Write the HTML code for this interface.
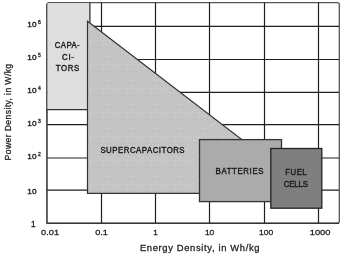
<!DOCTYPE html>
<html><head><meta charset="utf-8">
<style>
html,body{margin:0;padding:0;background:#fff;width:342px;height:256px;overflow:hidden}
svg{display:block;filter:blur(0.3px)}
text{font-family:"Liberation Sans",sans-serif;fill:#1c1c1c;stroke:#1c1c1c;stroke-width:0}
.lb text{stroke-width:0.42px}
.tk text{stroke-width:0.28px}
.ty text{stroke-width:0.32px}
text.t{stroke:#262626;stroke-width:0.3px;fill:#262626}
</style></head>
<body>
<svg width="342" height="256" viewBox="0 0 342 256">
<defs>
<pattern id="noise" width="12" height="12" patternUnits="userSpaceOnUse">
<rect width="12" height="12" fill="#c4c4c4"/><rect x="0" y="0" width="1" height="1" fill="#c0c0c0"/><rect x="1" y="0" width="1" height="1" fill="#c6c6c6"/><rect x="2" y="0" width="1" height="1" fill="#c5c5c5"/><rect x="3" y="0" width="1" height="1" fill="#bfbfbf"/><rect x="4" y="0" width="1" height="1" fill="#c2c2c2"/><rect x="5" y="0" width="1" height="1" fill="#cbcbcb"/><rect x="6" y="0" width="1" height="1" fill="#c6c6c6"/><rect x="8" y="0" width="1" height="1" fill="#c7c7c7"/><rect x="9" y="0" width="1" height="1" fill="#c6c6c6"/><rect x="10" y="0" width="1" height="1" fill="#bebebe"/><rect x="11" y="0" width="1" height="1" fill="#c6c6c6"/><rect x="0" y="1" width="1" height="1" fill="#bdbdbd"/><rect x="1" y="1" width="1" height="1" fill="#cbcbcb"/><rect x="2" y="1" width="1" height="1" fill="#cacaca"/><rect x="4" y="1" width="1" height="1" fill="#c1c1c1"/><rect x="5" y="1" width="1" height="1" fill="#c5c5c5"/><rect x="6" y="1" width="1" height="1" fill="#c0c0c0"/><rect x="7" y="1" width="1" height="1" fill="#c0c0c0"/><rect x="8" y="1" width="1" height="1" fill="#c8c8c8"/><rect x="10" y="1" width="1" height="1" fill="#c5c5c5"/><rect x="11" y="1" width="1" height="1" fill="#cacaca"/><rect x="0" y="2" width="1" height="1" fill="#c5c5c5"/><rect x="2" y="2" width="1" height="1" fill="#c3c3c3"/><rect x="3" y="2" width="1" height="1" fill="#c7c7c7"/><rect x="4" y="2" width="1" height="1" fill="#cacaca"/><rect x="5" y="2" width="1" height="1" fill="#bfbfbf"/><rect x="6" y="2" width="1" height="1" fill="#c0c0c0"/><rect x="7" y="2" width="1" height="1" fill="#c7c7c7"/><rect x="8" y="2" width="1" height="1" fill="#bfbfbf"/><rect x="9" y="2" width="1" height="1" fill="#cacaca"/><rect x="10" y="2" width="1" height="1" fill="#cbcbcb"/><rect x="11" y="2" width="1" height="1" fill="#c5c5c5"/><rect x="0" y="3" width="1" height="1" fill="#c3c3c3"/><rect x="1" y="3" width="1" height="1" fill="#c8c8c8"/><rect x="2" y="3" width="1" height="1" fill="#bdbdbd"/><rect x="3" y="3" width="1" height="1" fill="#c7c7c7"/><rect x="4" y="3" width="1" height="1" fill="#c9c9c9"/><rect x="5" y="3" width="1" height="1" fill="#bebebe"/><rect x="6" y="3" width="1" height="1" fill="#bfbfbf"/><rect x="7" y="3" width="1" height="1" fill="#c9c9c9"/><rect x="8" y="3" width="1" height="1" fill="#c6c6c6"/><rect x="9" y="3" width="1" height="1" fill="#bdbdbd"/><rect x="10" y="3" width="1" height="1" fill="#c1c1c1"/><rect x="11" y="3" width="1" height="1" fill="#c9c9c9"/><rect x="0" y="4" width="1" height="1" fill="#bdbdbd"/><rect x="1" y="4" width="1" height="1" fill="#cacaca"/><rect x="2" y="4" width="1" height="1" fill="#cacaca"/><rect x="3" y="4" width="1" height="1" fill="#c1c1c1"/><rect x="5" y="4" width="1" height="1" fill="#c6c6c6"/><rect x="6" y="4" width="1" height="1" fill="#c8c8c8"/><rect x="7" y="4" width="1" height="1" fill="#cbcbcb"/><rect x="8" y="4" width="1" height="1" fill="#cbcbcb"/><rect x="9" y="4" width="1" height="1" fill="#c3c3c3"/><rect x="10" y="4" width="1" height="1" fill="#c8c8c8"/><rect x="11" y="4" width="1" height="1" fill="#c9c9c9"/><rect x="0" y="5" width="1" height="1" fill="#cbcbcb"/><rect x="1" y="5" width="1" height="1" fill="#c3c3c3"/><rect x="2" y="5" width="1" height="1" fill="#c3c3c3"/><rect x="3" y="5" width="1" height="1" fill="#c8c8c8"/><rect x="4" y="5" width="1" height="1" fill="#c9c9c9"/><rect x="5" y="5" width="1" height="1" fill="#c6c6c6"/><rect x="7" y="5" width="1" height="1" fill="#cbcbcb"/><rect x="8" y="5" width="1" height="1" fill="#bfbfbf"/><rect x="9" y="5" width="1" height="1" fill="#cbcbcb"/><rect x="10" y="5" width="1" height="1" fill="#c2c2c2"/><rect x="11" y="5" width="1" height="1" fill="#bebebe"/><rect x="0" y="6" width="1" height="1" fill="#bdbdbd"/><rect x="1" y="6" width="1" height="1" fill="#bfbfbf"/><rect x="3" y="6" width="1" height="1" fill="#c0c0c0"/><rect x="4" y="6" width="1" height="1" fill="#c1c1c1"/><rect x="5" y="6" width="1" height="1" fill="#c7c7c7"/><rect x="6" y="6" width="1" height="1" fill="#c3c3c3"/><rect x="7" y="6" width="1" height="1" fill="#c9c9c9"/><rect x="8" y="6" width="1" height="1" fill="#c7c7c7"/><rect x="9" y="6" width="1" height="1" fill="#cacaca"/><rect x="10" y="6" width="1" height="1" fill="#c1c1c1"/><rect x="11" y="6" width="1" height="1" fill="#c3c3c3"/><rect x="0" y="7" width="1" height="1" fill="#c5c5c5"/><rect x="1" y="7" width="1" height="1" fill="#cacaca"/><rect x="2" y="7" width="1" height="1" fill="#c3c3c3"/><rect x="3" y="7" width="1" height="1" fill="#c6c6c6"/><rect x="4" y="7" width="1" height="1" fill="#c2c2c2"/><rect x="5" y="7" width="1" height="1" fill="#c5c5c5"/><rect x="6" y="7" width="1" height="1" fill="#c6c6c6"/><rect x="7" y="7" width="1" height="1" fill="#c3c3c3"/><rect x="8" y="7" width="1" height="1" fill="#c6c6c6"/><rect x="9" y="7" width="1" height="1" fill="#c0c0c0"/><rect x="10" y="7" width="1" height="1" fill="#cbcbcb"/><rect x="11" y="7" width="1" height="1" fill="#c2c2c2"/><rect x="0" y="8" width="1" height="1" fill="#c7c7c7"/><rect x="1" y="8" width="1" height="1" fill="#cbcbcb"/><rect x="2" y="8" width="1" height="1" fill="#cbcbcb"/><rect x="3" y="8" width="1" height="1" fill="#bdbdbd"/><rect x="4" y="8" width="1" height="1" fill="#cacaca"/><rect x="5" y="8" width="1" height="1" fill="#c1c1c1"/><rect x="6" y="8" width="1" height="1" fill="#c6c6c6"/><rect x="7" y="8" width="1" height="1" fill="#c7c7c7"/><rect x="8" y="8" width="1" height="1" fill="#c8c8c8"/><rect x="9" y="8" width="1" height="1" fill="#bfbfbf"/><rect x="10" y="8" width="1" height="1" fill="#c8c8c8"/><rect x="11" y="8" width="1" height="1" fill="#cacaca"/><rect x="0" y="9" width="1" height="1" fill="#c2c2c2"/><rect x="1" y="9" width="1" height="1" fill="#c5c5c5"/><rect x="2" y="9" width="1" height="1" fill="#cbcbcb"/><rect x="3" y="9" width="1" height="1" fill="#c6c6c6"/><rect x="4" y="9" width="1" height="1" fill="#c6c6c6"/><rect x="5" y="9" width="1" height="1" fill="#bebebe"/><rect x="6" y="9" width="1" height="1" fill="#c8c8c8"/><rect x="7" y="9" width="1" height="1" fill="#c7c7c7"/><rect x="8" y="9" width="1" height="1" fill="#c0c0c0"/><rect x="9" y="9" width="1" height="1" fill="#c7c7c7"/><rect x="10" y="9" width="1" height="1" fill="#cacaca"/><rect x="11" y="9" width="1" height="1" fill="#c6c6c6"/><rect x="0" y="10" width="1" height="1" fill="#c1c1c1"/><rect x="1" y="10" width="1" height="1" fill="#c1c1c1"/><rect x="2" y="10" width="1" height="1" fill="#bebebe"/><rect x="3" y="10" width="1" height="1" fill="#bebebe"/><rect x="5" y="10" width="1" height="1" fill="#cacaca"/><rect x="6" y="10" width="1" height="1" fill="#c7c7c7"/><rect x="8" y="10" width="1" height="1" fill="#bebebe"/><rect x="9" y="10" width="1" height="1" fill="#c2c2c2"/><rect x="10" y="10" width="1" height="1" fill="#c9c9c9"/><rect x="11" y="10" width="1" height="1" fill="#bebebe"/><rect x="0" y="11" width="1" height="1" fill="#c3c3c3"/><rect x="1" y="11" width="1" height="1" fill="#cbcbcb"/><rect x="2" y="11" width="1" height="1" fill="#bfbfbf"/><rect x="3" y="11" width="1" height="1" fill="#bdbdbd"/><rect x="4" y="11" width="1" height="1" fill="#c1c1c1"/><rect x="5" y="11" width="1" height="1" fill="#c3c3c3"/><rect x="6" y="11" width="1" height="1" fill="#c9c9c9"/><rect x="7" y="11" width="1" height="1" fill="#c3c3c3"/><rect x="8" y="11" width="1" height="1" fill="#cacaca"/><rect x="9" y="11" width="1" height="1" fill="#bebebe"/><rect x="10" y="11" width="1" height="1" fill="#bdbdbd"/><rect x="11" y="11" width="1" height="1" fill="#c6c6c6"/>
</pattern>
</defs>
<rect x="46.9" y="2.6" width="292.4" height="220.6" rx="2" fill="#fff" stroke="#555" stroke-width="1.3"/>
<g stroke="#1e1e1e" stroke-width="1.2">
<line x1="101.5" y1="2.5" x2="101.5" y2="223"/>
<line x1="155.5" y1="2.5" x2="155.5" y2="223"/>
<line x1="209.5" y1="2.5" x2="209.5" y2="223"/>
<line x1="264.5" y1="2.5" x2="264.5" y2="223"/>
<line x1="318.5" y1="2.5" x2="318.5" y2="223"/>
<line x1="46.8" y1="26.4" x2="339" y2="26.4"/>
<line x1="46.8" y1="59.5" x2="339" y2="59.5"/>
<line x1="46.8" y1="92.4" x2="339" y2="92.4"/>
<line x1="46.8" y1="124.6" x2="339" y2="124.6"/>
<line x1="46.8" y1="158.0" x2="339" y2="158.0"/>
<line x1="46.8" y1="190.1" x2="339" y2="190.1"/>
</g>
<line x1="46.9" y1="4" x2="46.9" y2="222.5" stroke="#4a4a4a" stroke-width="1.4"/>
<line x1="46.3" y1="223.4" x2="339" y2="223.4" stroke="#333" stroke-width="1.3"/>
<rect x="47.5" y="3.2" width="42.4" height="106.5" fill="#dedede"/>
<path d="M89.9,2.4 V109.7 H46.5" fill="none" stroke="#333" stroke-width="1.3"/>
<polygon points="87.5,21.2 260,153.6 260,193.3 87.5,193.3" fill="url(#noise)" stroke="#333" stroke-width="1.2"/>
<rect x="199.5" y="139.6" width="82.0" height="62.0" fill="#ababab" stroke="#333" stroke-width="1.3"/>
<rect x="270.8" y="148.5" width="51.0" height="59.7" fill="#7f7f7f" stroke="#222" stroke-width="1.3"/>
<g class="lb" font-size="8.9" text-anchor="middle">
<text transform="translate(67.2,48.0) scale(0.88,1)" textLength="28.2" lengthAdjust="spacing">CAPA-</text>
<text transform="translate(67.95,59.7) scale(0.88,1)" textLength="13.5" lengthAdjust="spacing">CI-</text>
<text transform="translate(67.5,71.0) scale(0.88,1)" textLength="26.6" lengthAdjust="spacing">TORS</text>
<text transform="translate(142.5,152.5) scale(0.88,1)" textLength="95.7" lengthAdjust="spacing">SUPERCAPACITORS</text>
<text transform="translate(239.55,173.5) scale(0.88,1)" textLength="54.4" lengthAdjust="spacing">BATTERIES</text>
<text transform="translate(296.0,175.1) scale(0.88,1)" textLength="24.3" lengthAdjust="spacing">FUEL</text>
<text transform="translate(295.8,187.2) scale(0.88,1)" textLength="27.5" lengthAdjust="spacing">CELLS</text>
</g>
<g class="ty" font-size="7.4">
<text x="27.3" y="27.4" textLength="9.2" lengthAdjust="spacingAndGlyphs">10</text><text x="38.1" y="24.3" font-size="5.0">6</text>
<text x="27.3" y="60.4" textLength="9.2" lengthAdjust="spacingAndGlyphs">10</text><text x="38.1" y="57.3" font-size="5.0">5</text>
<text x="27.3" y="93.4" textLength="9.2" lengthAdjust="spacingAndGlyphs">10</text><text x="38.1" y="90.3" font-size="5.0">4</text>
<text x="27.3" y="125.9" textLength="9.2" lengthAdjust="spacingAndGlyphs">10</text><text x="38.1" y="122.8" font-size="5.0">3</text>
<text x="27.3" y="159.1" textLength="9.2" lengthAdjust="spacingAndGlyphs">10</text><text x="38.1" y="156.0" font-size="5.0">2</text>
<text x="27.3" y="193.8" textLength="9.2" lengthAdjust="spacingAndGlyphs">10</text>
<text x="31.0" y="226.7" font-size="8.2">1</text>
</g>
<g class="tk" font-size="8.1" text-anchor="middle">
<text x="50.1" y="235.4" textLength="18.0" lengthAdjust="spacingAndGlyphs">0.01</text>
<text x="101.5" y="235.4" textLength="12.7" lengthAdjust="spacingAndGlyphs">0.1</text>
<text x="155.5" y="235.4">1</text>
<text x="209.6" y="235.4" textLength="9.4" lengthAdjust="spacingAndGlyphs">10</text>
<text x="266.2" y="235.4" textLength="14.2" lengthAdjust="spacingAndGlyphs">100</text>
<text x="320.1" y="235.4" textLength="20.6" lengthAdjust="spacingAndGlyphs">1000</text>
</g>
<g style="stroke:none;fill:#2a2a2a">
<text class="t" transform="translate(139.9,251.3)" font-size="9.4" textLength="119.6" lengthAdjust="spacing">Energy Density, in Wh/kg</text>
<text class="t" transform="translate(11.0,160.4) rotate(-90) scale(0.9,1)" font-size="9.6" textLength="107.3" lengthAdjust="spacing">Power Density, in W/kg</text>
</g>
</svg>
</body></html>
